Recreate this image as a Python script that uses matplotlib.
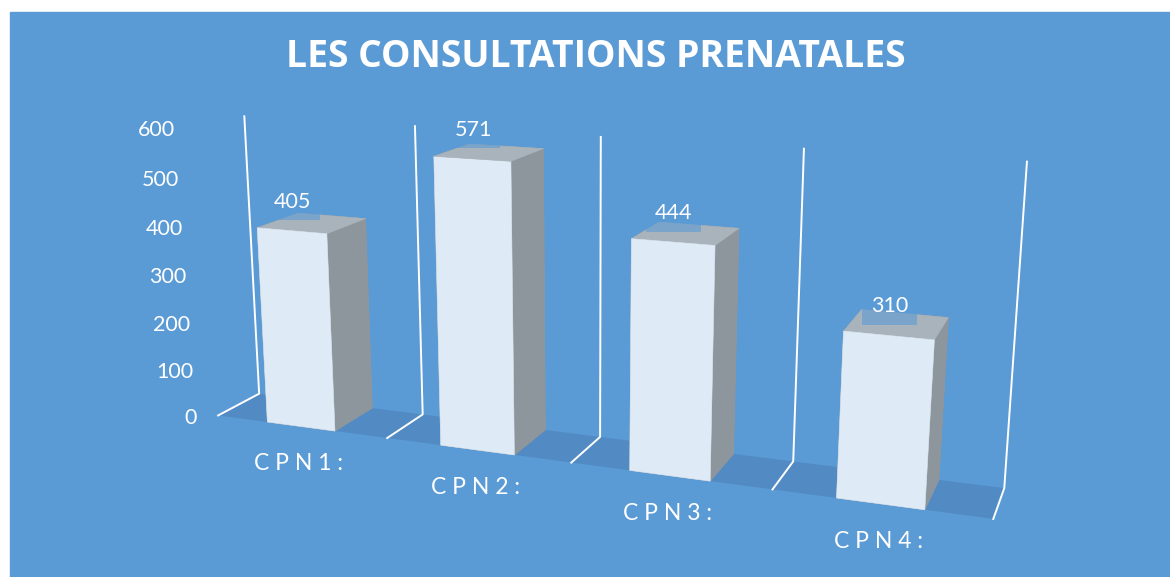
import numpy as np
import matplotlib
matplotlib.use("Agg")
import matplotlib.pyplot as plt
from matplotlib.patches import Rectangle
from mpl_toolkits.mplot3d.art3d import Poly3DCollection
from mpl_toolkits.mplot3d import proj3d

title = "LES CONSULTATIONS PRENATALES"
categories = ["C P N 1 :", "C P N 2 :", "C P N 3 :", "C P N 4 :"]
values = [405, 571, 444, 310]
ticks = [0, 100, 200, 300, 400, 500, 600]

bg = "#5B9BD5"
floor_col = "#528BC4"
front_col = "#DEEAF6"
side_col = "#8E969D"
top_col = "#A9B3BB"

plt.rcParams["font.family"] = ["Lato", "DejaVu Sans"]

W, H = 1170, 577
fig = plt.figure(figsize=(W / 100, H / 100), dpi=100, facecolor="white")
fig.patches.append(Rectangle((10 / W, 0), 1 - 10 / W, 1 - 12 / H,
                             transform=fig.transFigure, color=bg, zorder=-5))

# square 3d axes, centre of the box lands on pixel (586, 300)
side = 1170
cx, cy = 586, H - 300
ax = fig.add_axes([(cx - 0.5135 * side) / W, (cy - 0.5135 * side) / H,
                   side / W, side / H], projection="3d", computed_zorder=False)
ax.set_facecolor("none")
ax.set_proj_type("persp", focal_length=0.254)
ax.view_init(elev=14.5, azim=-69.1)
depth = 0.4
ax.set_box_aspect((4, depth, 1.53), zoom=0.738)
n = len(values)
ax.set_xlim(0.5, n + 0.5)
ax.set_ylim(0, depth)
ax.set_zlim(0, ticks[-1])
ax.set_axis_off()
M = ax.get_proj()

def label(x, y, z, s, dx, dy, **kw):
    xs, ys, _ = proj3d.proj_transform(x, y, z, M)
    ax.annotate(s, (xs, ys), xytext=(dx, dy), textcoords="offset pixels",
                color="white", zorder=5, annotation_clip=False, **kw)

# floor
ax.add_collection3d(Poly3DCollection([[(0.5, 0, 0), (n + 0.5, 0, 0), (n + 0.5, depth, 0), (0.5, depth, 0)]],
                                     facecolor=floor_col, edgecolor="none", zorder=1))

# category gridlines on the floor and the back wall
for b in np.arange(0.5, n + 1):
    ax.plot([b, b, b], [0, depth, depth], [0, 0, ticks[-1]], color="white", lw=1.4, zorder=2)

# bars
xpos = np.arange(1, n + 1) - 0.2
faces = []
for _ in values:
    faces += [side_col, top_col, front_col, side_col, side_col, side_col]
bars = ax.bar3d(xpos, 0, 0, 0.4, depth, values, color=faces, shade=False,
                edgecolor=faces, linewidth=0.4)
bars.set_zorder(3)

# data labels
for i, v in enumerate(values):
    label(i + 1, 0, v, str(v), 1, 29, ha="center", va="center", fontsize=15.5,
          bbox=dict(boxstyle="square,pad=0.4", facecolor=bg, alpha=0.6, edgecolor="none"))

# value axis
for t in ticks:
    label(0.5, 0, t, str(t), -21.5 - 4 * t / ticks[-1], -3, ha="right", va="center", fontsize=15.5)

# categories
for i, c in enumerate(categories):
    label(i + 1, 0, 0, c, -2, -37.5, ha="center", va="center", fontsize=16.5)

fig.text(596 / W, 1 - 57 / H, title, ha="center", va="center", color="white",
         fontsize=26.8, fontweight="bold", family=["Open Sans", "DejaVu Sans"])

fig.savefig("out.png", dpi=100, facecolor=fig.get_facecolor())
